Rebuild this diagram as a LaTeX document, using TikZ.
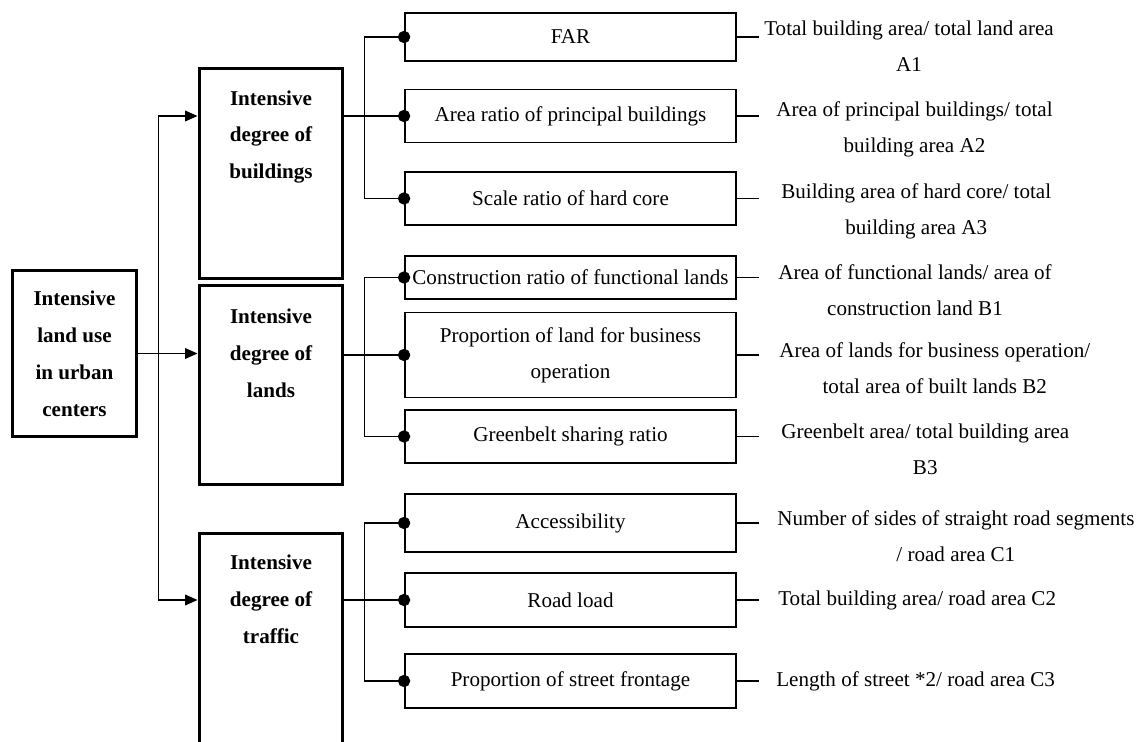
\documentclass[tikz,border=0pt]{standalone}
\usepackage{fontspec}
\setmainfont{Liberation Serif}
\usepackage{tikz}
\usetikzlibrary{arrows.meta}

\tikzset{
  catbox/.style={draw,line width=1.7pt,minimum width=2.88cm,inner sep=0pt},
  cattext/.style={align=center,font=\fontsize{12}{21}\selectfont\bfseries},
  itembox/.style={draw,line width=1.1pt,minimum width=6.62cm,align=center,inner sep=1pt,
    font=\fontsize{12}{20.5}\selectfont},
  desc/.style={anchor=west,align=center,inner sep=0pt,font=\fontsize{12}{20.5}\selectfont},
  twoline/.style={yshift=-0.26cm},
  link/.style={line width=0.85pt},
  arr/.style={link,-{Triangle[length=7pt,width=6pt]}},
  dot/.style={link,-{Circle[length=7pt]},shorten >=-3.5pt}
}

\begin{document}
\begin{tikzpicture}[x=0.02cm,y=-0.02cm]
  \useasboundingbox (0,0) rectangle (1139,742);

  % root and the three groups
  \node[catbox,cattext,minimum width=2.5cm,minimum height=3.34cm] (root) at (74.5,353.5)
    {Intensive\\land use\\in urban\\centers};
  \node[catbox,minimum height=4.22cm] (bld) at (271,173.5) {};
  \node[catbox,minimum height=4cm] (lnd) at (271,385) {};
  \node[catbox,minimum height=4.6cm] (trf) at (271,648) {};
  \node[cattext] (bldtxt) at ([yshift=0.73cm]bld.center) {Intensive\\degree of\\buildings};
  \node[cattext] (lndtxt) at ([yshift=0.64cm]lnd.center) {Intensive\\degree of\\lands};
  \node[cattext] (trftxt) at ([yshift=0.98cm]trf.center) {Intensive\\degree of\\traffic};

  % indicators
  \node[itembox,minimum height=0.96cm] (far) at (570.5,37) {FAR};
  \node[itembox,minimum height=1.06cm] (prin) at (570.5,116) {Area ratio of principal buildings};
  \node[itembox,minimum height=1.06cm] (core) at (570.5,198.5) {Scale ratio of hard core};
  \node[itembox,minimum height=0.86cm] (func) at (570.5,277.5) {Construction ratio of functional lands};
  \node[itembox,minimum height=1.7cm] (busi) at (570.5,355) {Proportion of land for business\\operation};
  \node[itembox,minimum height=1.06cm] (green) at (570.5,436.5) {Greenbelt sharing ratio};
  \node[itembox,minimum height=1.16cm] (acc) at (570.5,523) {Accessibility};
  \node[itembox,minimum height=1.08cm] (road) at (570.5,600) {Road load};
  \node[itembox,minimum height=1.08cm] (front) at (570.5,681) {Proportion of street frontage};

  % formulas
  \node[desc,twoline,yshift=0.08cm] (fardesc) at ([xshift=0.54cm]far.east) {Total building area/ total land area\\A1};
  \node[desc,twoline] (prindesc) at ([xshift=0.78cm]prin.east) {Area of principal buildings/ total\\building area A2};
  \node[desc,twoline] (coredesc) at ([xshift=0.88cm]core.east) {Building area of hard core/ total\\building area A3};
  \node[desc,twoline] (funcdesc) at ([xshift=0.82cm]func.east) {Area of functional lands/ area of\\construction land B1};
  \node[desc,twoline] (busidesc) at ([xshift=0.84cm]busi.east) {Area of lands for business operation/\\total area of built lands B2};
  \node[desc,twoline] (greendesc) at ([xshift=0.88cm]green.east) {Greenbelt area/ total building area\\B3};
  \node[desc,twoline] (accdesc) at ([xshift=0.8cm]acc.east) {Number of sides of straight road segments\\/ road area C1};
  \node[desc] (roaddesc) at ([xshift=0.82cm]road.east) {Total building area/ road area C2};
  \node[desc] (frontdesc) at ([xshift=0.78cm]front.east) {Length of street *2/ road area C3};

  % connectors
  \coordinate (split) at ([xshift=0.4cm]root.east);
  \draw[arr] (root.east) -- (root.east -| lnd.west);
  \draw[arr] (split) |- (bld.west |- prin.west);
  \draw[arr] (split) |- (trf.west |- road.west);

  \draw[link] (bld.east |- prin.west) -- ++(20,0) coordinate (bbus);
  \draw[link] (lnd.east |- busi.west) -- ++(20,0) coordinate (lbus);
  \draw[link] (trf.east |- road.west) -- ++(20,0) coordinate (tbus);
  \foreach \b/\n in {bbus/far,bbus/prin,bbus/core,lbus/func,lbus/busi,lbus/green,tbus/acc,tbus/road,tbus/front}
    \draw[dot] (\b) |- (\n.west);

  \foreach \n in {far,prin,core,func,busi,green,acc,road,front}
    \draw[link] (\n.east) -- ++(22,0);
\end{tikzpicture}
\end{document}
